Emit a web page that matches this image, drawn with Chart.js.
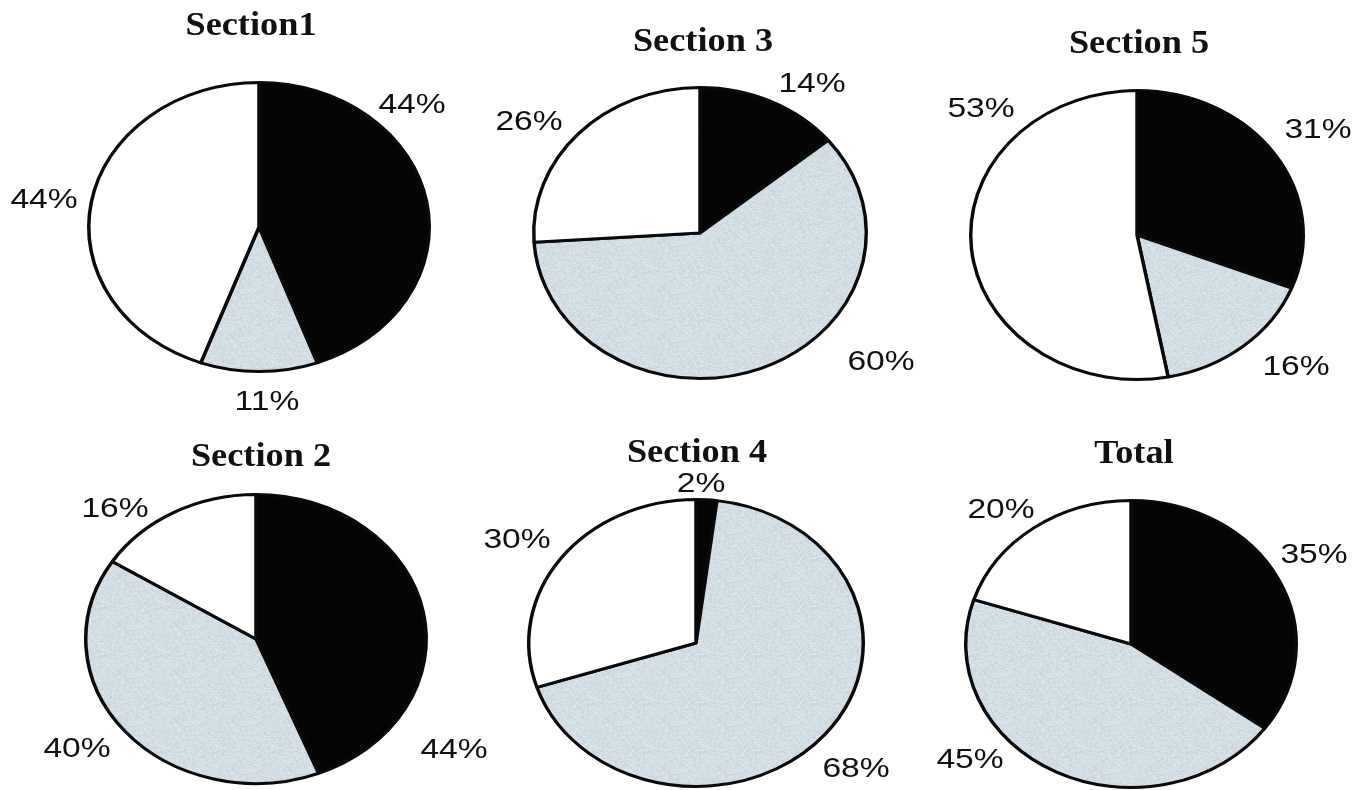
<!DOCTYPE html>
<html>
<head>
<meta charset="utf-8">
<script src="https://cdn.jsdelivr.net/npm/chart.js@4"></script>
<style>
  html, body { margin: 0; padding: 0; background: #ffffff; }
  #stage { position: relative; width: 1362px; height: 790px; overflow: hidden; background: #ffffff; }
  #stage canvas { position: absolute; left: 0; top: 0; }
</style>
</head>
<body>
<div id="stage"></div>
<script>
// ---- data ----
const sliceNames = ['Category A', 'Category B', 'Category C'];
const chartTitles = ['Section1', 'Section 3', 'Section 5', 'Section 2', 'Section 4', 'Total'];
const section1 = [44, 11, 44];
const section3 = [14, 60, 26];
const section5 = [31, 16, 53];
const section2 = [44, 40, 16];
const section4 = [2, 68, 30];
const total    = [35, 45, 20];
const seriesList = [section1, section3, section5, section2, section4, total];

// ---- layout (page pixels) ----
const PAGE_W = 1362, PAGE_H = 790;
// pie centre and its horizontal / vertical radii
const pies = [
  { cx: 259,  cy: 227, rx: 172, ry: 146 },
  { cx: 700,  cy: 233, rx: 168, ry: 147 },
  { cx: 1137, cy: 235, rx: 168, ry: 146 },
  { cx: 256,  cy: 639, rx: 172, ry: 146 },
  { cx: 696,  cy: 643, rx: 169, ry: 145 },
  { cx: 1131, cy: 644, rx: 167, ry: 145 }
];
// title baseline offset from the pie centre
const titleOffsets = [[-8, -192], [3, -182], [2, -182], [5, -173], [1, -181], [3, -181]];
// value-label baseline offsets from the pie centre, one per slice
const labelOffsets = [
  [[153, -114], [8, 183],   [-215, -19]],
  [[112, -141], [181, 137], [-171, -103]],
  [[181, -97],  [159, 140], [-156, -118]],
  [[198, 119],  [-179, 118], [-141, -122]],
  [[5, -151],   [160, 134], [-179, -95]],
  [[183, -81],  [-161, 124], [-130, -126]]
];

// ---- styles ----
const TITLE_FONT = 'bold 33px "Liberation Serif", "DejaVu Serif", serif';
const TITLE_STRETCH = 1.1;
const LABEL_FONT = '28px "Liberation Sans", Arial, sans-serif';
const LABEL_STRETCH = 1.2;

// light blue-grey stipple used for the middle slice
function makeStipple() {
  const c = document.createElement('canvas');
  c.width = 48; c.height = 48;
  const g = c.getContext('2d');
  const img = g.createImageData(48, 48);
  let h = 2166136261;
  for (let i = 0; i < 48 * 48; i++) {
    h ^= i * 374761393; h = Math.imul(h, 16777619) >>> 0;
    h ^= h >>> 13; h = Math.imul(h, 1274126177) >>> 0;
    const n = ((h & 255) / 255 - 0.5) * 22;
    img.data[i * 4]     = Math.max(0, Math.min(255, 211 + n));
    img.data[i * 4 + 1] = Math.max(0, Math.min(255, 221 + n));
    img.data[i * 4 + 2] = Math.max(0, Math.min(255, 228 + n));
    img.data[i * 4 + 3] = 255;
  }
  g.putImageData(img, 0, 0);
  return g.createPattern(c, 'repeat');
}

// squeezes the round pie into the wide ellipse, and writes the title and value labels
const ellipsePie = {
  id: 'ellipsePie',
  beforeDatasetsDraw(chart, args, opts) {
    const arc = chart.getDatasetMeta(0).data[0];
    const ctx = chart.ctx;
    ctx.save();
    ctx.translate(arc.x, arc.y);
    ctx.scale(opts.sx, 1);
    ctx.translate(-arc.x, -arc.y);
  },
  afterDatasetsDraw(chart) {
    chart.ctx.restore();
  },
  afterDraw(chart, args, opts) {
    const arc = chart.getDatasetMeta(0).data[0];
    const ctx = chart.ctx;
    const put = (text, dx, dy, font, stretch) => {
      ctx.save();
      ctx.translate(arc.x + dx, arc.y + dy);
      ctx.scale(stretch, 1);
      ctx.font = font;
      ctx.fillStyle = '#111111';
      ctx.textAlign = 'center';
      ctx.textBaseline = 'alphabetic';
      ctx.fillText(text, 0, 0);
      ctx.restore();
    };
    put(opts.title, opts.titleOffset[0], opts.titleOffset[1], TITLE_FONT, TITLE_STRETCH);
    const values = chart.data.datasets[0].data;
    values.forEach((v, i) => {
      const o = opts.labelOffsets[i];
      put(v + '%', o[0], o[1], LABEL_FONT, LABEL_STRETCH);
    });
  }
};

const stage = document.getElementById('stage');
const stipple = makeStipple();

seriesList.forEach((values, k) => {
  const p = pies[k];
  const canvas = document.createElement('canvas');
  canvas.width = PAGE_W; canvas.height = PAGE_H;
  canvas.style.width = PAGE_W + 'px'; canvas.style.height = PAGE_H + 'px';
  stage.appendChild(canvas);
  new Chart(canvas, {
    type: 'pie',
    data: {
      labels: sliceNames,
      datasets: [{
        data: values,
        backgroundColor: ['#050505', stipple, '#ffffff'],
        borderColor: '#0a0a0a',
        borderWidth: 3,
        hoverOffset: 0,
        offset: 0,
        clip: false
      }]
    },
    options: {
      responsive: false,
      maintainAspectRatio: false,
      animation: false,
      events: [],
      layout: {
        padding: {
          left: p.cx - p.ry,
          right: PAGE_W - (p.cx + p.ry),
          top: p.cy - p.ry,
          bottom: PAGE_H - (p.cy + p.ry)
        }
      },
      plugins: {
        legend: { display: false },
        tooltip: { enabled: false },
        title: { display: false },
        ellipsePie: {
          sx: p.rx / p.ry,
          title: chartTitles[k],
          titleOffset: titleOffsets[k],
          labelOffsets: labelOffsets[k]
        }
      }
    },
    plugins: [ellipsePie]
  });
});
</script>
</body>
</html>
